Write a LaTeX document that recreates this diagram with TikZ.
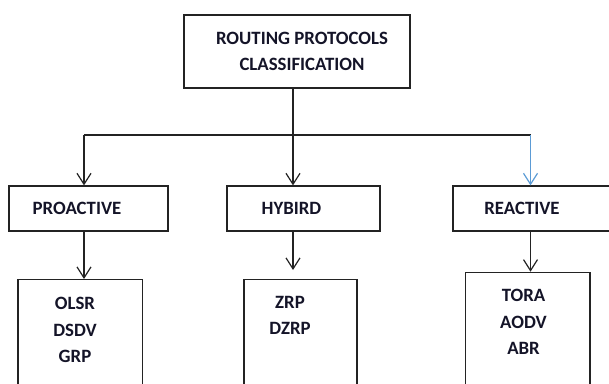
\documentclass[tikz,border=0pt]{standalone}
\usepackage{fontspec}
\setmainfont{Carlito}
\usepackage{tikz}
\usetikzlibrary{
  arrows.meta,
  positioning,
  calc
}
\definecolor{linecolor}{RGB}{35, 35, 35}
\definecolor{labelcolor}{RGB}{20, 20, 40}
\definecolor{reactivecolor}{RGB}{91, 155, 213}
\tikzset{
blocktext/.style={
  align=center,
  font=\fontsize{18.8}{26.5}\selectfont\bfseries,
  text=labelcolor,
  inner sep=0pt
},
block/.style={
  draw=linecolor,
  line width=1.2pt,
  inner sep=0pt
},
rootblock/.style={
  block,
  minimum width=226pt,
  minimum height=73pt
},
classblock/.style={
  block,
  minimum height=45pt
},
listblock/.style={
  block,
  anchor=north,
  minimum height=140pt
},
link/.style={
  line width=1.2pt,
  draw=linecolor
},
arrow/.style={
  link,
  -{Straight Barb[length=11pt,width=14pt,line width=1.2pt]}
}
}

\begin{document}
\begin{tikzpicture}[x=1pt,y=-1pt]
  \useasboundingbox (0,0) rectangle (609,383);
  \clip (0,0) rectangle (609,383);

  \node[rootblock] (root) at (297,51.5) {};
  \node[blocktext] (roottext) at (302,51.5) {ROUTING PROTOCOLS\\CLASSIFICATION};

  \node[classblock, minimum width=159pt] (proactive) at (88.5,208.5) {};
  \node[blocktext] (proactivetext) at (77,208) {PROACTIVE};
  \node[classblock, minimum width=153pt] (hybird) at (303.5,208.5) {};
  \node[blocktext] (hybirdtext) at (291.5,208) {HYBIRD};
  \node[classblock, minimum width=187pt] (reactive) at (546.5,208.5) {};
  \node[blocktext] (reactivetext) at (522,208) {REACTIVE};

  \node[listblock, minimum width=124.5pt] (proactivelist) at (80.25,279) {};
  \node[blocktext] (proactivelisttext) at (75,330) {OLSR\\DSDV\\GRP};
  \node[listblock, minimum width=113pt] (hybirdlist) at (300.5,279) {};
  \node[blocktext] (hybirdlisttext) at (290,315.5) {ZRP\\DZRP};
  \node[listblock, minimum width=124.5pt] (reactivelist) at (527.8,271.7) {};
  \node[blocktext] (reactivelisttext) at (523.5,322) {TORA\\AODV\\ABR};

  \coordinate (split) at (293,135);
  \coordinate (leftturn) at (84,135);
  \coordinate (rightturn) at (530.5,135);

  \draw[arrow] (root.south -| split) -- (hybird.north -| split);
  \draw[link] (leftturn) -- (rightturn);
  \draw[arrow] (leftturn) -- (proactive.north -| leftturn);
  \draw[arrow, draw=reactivecolor] (rightturn) -- (reactive.north -| rightturn);

  \draw[arrow] (proactive.south -| leftturn) -- (proactivelist.north -| leftturn);
  \draw[arrow, shorten >=9pt] (hybird.south -| split) -- (hybirdlist.north -| split);
  \draw[arrow] (reactive.south -| rightturn) -- (reactivelist.north -| rightturn);
\end{tikzpicture}
\end{document}
